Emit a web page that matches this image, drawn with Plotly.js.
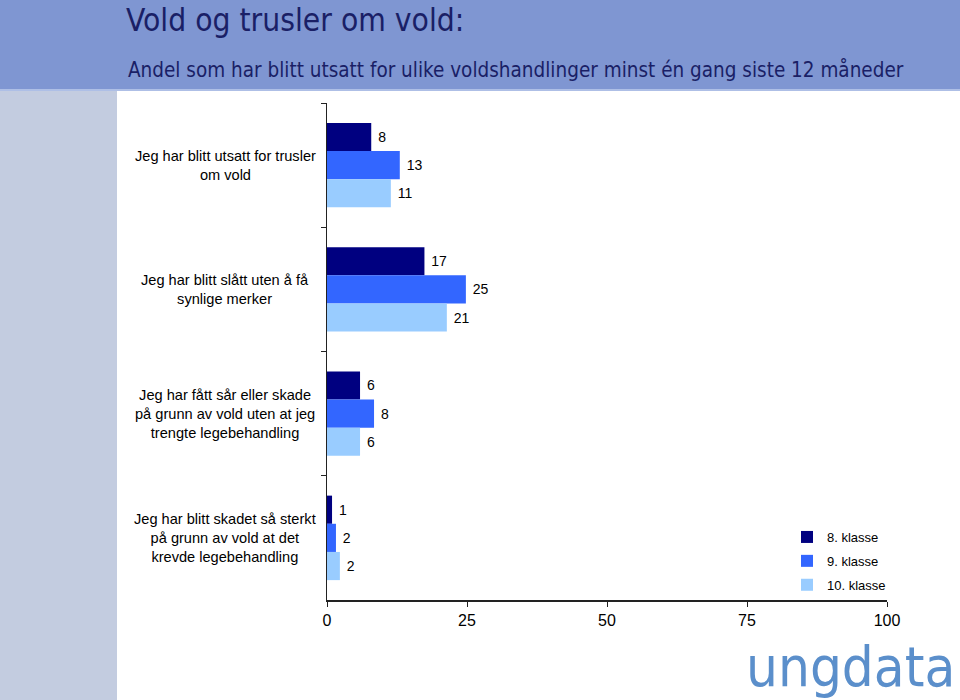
<!DOCTYPE html>
<html>
<head>
<meta charset="utf-8">
<script src="https://cdn.plot.ly/plotly-3.0.1.min.js"></script>
<style>html,body{margin:0;padding:0;background:#fff;}#chart{width:960px;height:700px;}</style>
</head>
<body>
<div id="chart"></div>
<script>
// ---- data ----
var categories = [
  "Jeg har blitt utsatt for trusler<br>om vold",
  "Jeg har blitt slått uten å få<br>synlige merker",
  "Jeg har fått sår eller skade<br>på grunn av vold uten at jeg<br>trengte legebehandling",
  "Jeg har blitt skadet så sterkt<br>på grunn av vold at det<br>krevde legebehandling"
];
var seriesNames = ["8. klasse", "9. klasse", "10. klasse"];
var klasse8 = [7.9, 17.4, 5.9, 0.9];
var klasse9 = [13.0, 24.8, 8.4, 1.6];
var klasse10 = [11.4, 21.4, 5.9, 2.3];
var xTicks = [0, 25, 50, 75, 100];
var titleText = "Vold og trusler om vold:";
var subtitleText = "Andel som har blitt utsatt for ulike voldshandlinger minst én gang siste 12 måneder";
var logoText = "ungdata";

// ---- layout geometry ----
var W = 960, H = 700;
var L = 327, R = 887, T = 103, B = 600;
function px(x) { return (x - L) / (R - L); }
function py(y) { return (B - y) / (B - T); }

var colors = ["#000080", "#3366ff", "#99ccff"];
var vals = [klasse8, klasse9, klasse10];
var font = "Liberation Sans, Arial, sans-serif";
var narrow = "DejaVu Sans Condensed, DejaVu Sans, sans-serif";

var traces = vals.map(function (v, i) {
  return {
    type: "bar",
    orientation: "h",
    name: seriesNames[i],
    legendgroup: "g" + i,
    y: categories,
    x: v,
    marker: { color: colors[i], line: { width: 0 } },
    texttemplate: " %{x:.0f}",
    textposition: "outside",
    textfont: { family: font, size: 14, color: "#000" },
    cliponaxis: false,
    hoverinfo: "x+name"
  };
});

var annotations = categories.map(function (c) {
  return {
    xref: "paper", yref: "y", x: px(225), y: c,
    text: c, showarrow: false, xanchor: "center", yanchor: "middle",
    align: "center", font: { family: font, size: 14.6, color: "#000" }
  };
});
annotations.push({
  xref: "paper", yref: "paper", x: px(126), y: py(70),
  text: subtitleText, showarrow: false, xanchor: "left", yanchor: "middle",
  font: { family: narrow, size: 20.5, color: "#1a1f66" }
});
annotations.push({
  xref: "paper", yref: "paper", x: px(744), y: py(666),
  text: logoText, showarrow: false, xanchor: "left", yanchor: "middle",
  font: { family: narrow, size: 56, color: "#5b8fcb" }
});

var layout = {
  width: W, height: H,
  margin: { l: L, r: W - R, t: T, b: H - B, pad: 0 },
  paper_bgcolor: "#ffffff",
  plot_bgcolor: "#ffffff",
  title: {
    text: titleText,
    xref: "container", yref: "container",
    x: 126 / W, xanchor: "left",
    y: 1 - 20 / H, yanchor: "middle",
    font: { family: narrow, size: 31.5, color: "#1a1f66" }
  },
  barmode: "group",
  bargap: 0.32,
  bargroupgap: 0,
  showlegend: true,
  legend: {
    x: px(787), y: py(522), xanchor: "left", yanchor: "top",
    font: { family: font, size: 13, color: "#000" },
    bgcolor: "rgba(0,0,0,0)", traceorder: "grouped", tracegroupgap: 4,
    itemclick: false
  },
  xaxis: {
    range: [0, 100], tickvals: xTicks, ticktext: xTicks.map(String),
    showgrid: false, zeroline: false, showline: true, linecolor: "#222", linewidth: 1.5,
    ticks: "outside", ticklen: 5, tickcolor: "#222",
    tickfont: { family: font, size: 16, color: "#000" },
    fixedrange: true
  },
  yaxis: {
    type: "category", categoryorder: "array", categoryarray: categories,
    autorange: "reversed",
    showgrid: false, zeroline: false, showline: true, linecolor: "#222", linewidth: 1.5,
    ticks: "outside", ticklen: 5, tickcolor: "#222", tickson: "boundaries",
    showticklabels: false, fixedrange: true
  },
  shapes: [
    { type: "rect", xref: "paper", yref: "paper", x0: px(0), x1: px(W), y0: py(90), y1: py(0),
      fillcolor: "#7f96d2", line: { width: 0 }, layer: "below" },
    { type: "rect", xref: "paper", yref: "paper", x0: px(0), x1: px(W), y0: py(91), y1: py(89),
      fillcolor: "#aebfe6", line: { width: 0 }, layer: "below" },
    { type: "rect", xref: "paper", yref: "paper", x0: px(0), x1: px(117), y0: py(H), y1: py(91),
      fillcolor: "#c3cce0", line: { width: 0 }, layer: "below" }
  ],
  annotations: annotations
};

Plotly.newPlot("chart", traces, layout, { displayModeBar: false, staticPlot: true });
</script>
</body>
</html>
